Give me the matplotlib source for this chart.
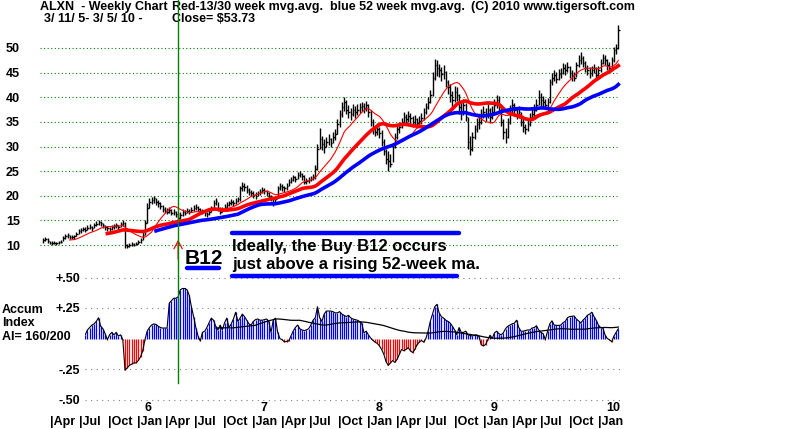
import numpy as np
import pandas as pd
import matplotlib
matplotlib.use("Agg")
import matplotlib.pyplot as plt
from matplotlib.transforms import blended_transform_factory, ScaledTranslation
from matplotlib.lines import Line2D

plt.rcParams['font.family'] = ['Liberation Sans', 'DejaVu Sans']

# ---------------- data ----------------
start_date = "2005-03-11"

close = [11.0, 11.3, 10.8, 10.5, 10.4, 10.5, 10.4, 10.6, 10.7,
         11.5, 11.8, 12.0, 11.7, 11.6, 11.8,
         12.3, 12.8, 13.0, 13.3, 13.1, 13.5,
         13.7, 13.4, 14.0, 14.3, 14.6, 14.5,
         14.0, 13.6, 13.4, 13.2, 13.6,
         13.8, 14.0, 13.6, 14.2, 14.5,
         10.0,
         9.8, 10.0, 10.2, 10.1, 10.3, 10.6,
         11.0, 12.0, 14.5,
         17.5,
         18.8, 19.2, 19.5, 18.8,
         18.5, 18.0, 17.3, 17.0,
         16.8, 17.2, 16.5, 16.8, 16.2,
         15.5, 16.0, 16.8,
         16.5, 17.0, 16.8, 17.2, 17.5, 17.8, 17.4, 17.0,
         16.9, 16.5, 16.2, 16.8, 17.5,
         18.5, 19.0,
         17.5, 16.8, 17.2,
         17.8, 18.2, 18.5, 18.8, 18.6, 19.0, 19.3,
         21.5, 22.0,
         21.8, 21.2, 20.8, 20.5, 20.2, 20.0,
         20.5, 20.8, 21.2, 21.0, 20.6, 20.0, 19.5,
         18.5, 19.3,
         21.5, 22.0, 21.8, 21.5,
         22.0, 22.8, 23.2, 23.8,
         23.5, 24.2, 24.5,
         24.0, 22.8, 23.0,
         23.2, 23.5, 23.8,
         25.5, 29.5,
         31.5, 30.5, 30.0,
         31.0, 31.5, 30.8, 32.0, 32.5,
         34.5, 36.5, 38.0,
         39.0, 37.5,
         37.0, 36.5, 37.5, 37.0,
         37.5, 38.0, 38.3, 37.8, 38.5,
         37.0, 35.0, 33.5,
         33.0, 33.5, 32.8, 31.0,
         29.0, 27.5, 27.0, 26.5,
         30.0, 32.0, 33.5, 34.0,
         35.0, 36.0, 35.5, 36.2, 35.8,
         35.0, 35.5, 34.8, 35.2, 35.8,
         37.0, 38.0, 39.0, 40.5,
         44.0, 46.5, 46.0,
         45.5, 44.8, 45.2,
         43.0, 42.0, 40.5, 39.5,
         41.0, 40.5, 38.0, 37.0,
         38.5, 36.0,
         31.0, 29.5,
         32.0, 33.5, 34.5,
         35.0, 36.5, 37.0, 36.5,
         37.5, 36.0, 37.0, 38.5,
         39.5, 38.5,
         35.0, 33.0, 32.0,
         35.0, 37.5, 38.5, 37.5,
         36.5, 37.0,
         35.0, 34.0, 33.5, 34.5,
         36.0, 36.5, 37.5,
         38.5, 40.0, 39.5, 39.0,
         38.5, 39.0,
         43.0, 44.0,
         44.5, 43.8, 44.8, 45.0,
         46.0, 45.5, 46.2, 45.0,
         44.5, 44.0,
         46.5, 47.5, 48.0,
         47.0, 46.0, 45.5, 45.0,
         45.5, 46.0, 44.5, 45.5,
         47.0, 48.0, 47.5,
         46.5, 46.0, 47.5,
         49.5, 50.0, 53.73]

high = [11.4, 11.6, 11.4, 10.9, 10.8, 10.8, 10.7, 10.9, 11.0,
        11.9, 12.3, 12.4, 12.1, 12.0, 12.1,
        12.7, 13.3, 13.5, 13.7, 13.6, 14.0,
        14.2, 13.9, 14.4, 14.8, 15.1, 14.9,
        14.5, 14.1, 13.9, 13.7, 14.0,
        14.2, 14.4, 14.1, 14.6, 15.0,
        14.6,
        10.3, 10.4, 10.6, 10.5, 10.7, 11.0,
        11.5, 12.6, 15.0,
        18.5,
        19.5, 19.8, 20.0, 19.6,
        19.2, 18.8, 18.2, 17.8,
        17.5, 17.8, 17.4, 17.3, 17.0,
        16.4, 16.6, 17.3,
        17.2, 17.5, 17.4, 17.7, 18.1, 18.3, 18.0, 17.6,
        17.4, 17.1, 16.8, 17.3, 18.0,
        19.1, 19.6,
        18.8, 17.8, 17.7,
        18.3, 18.7, 19.0, 19.3, 19.2, 19.5, 19.8,
        22.0, 22.7,
        22.6, 22.2, 21.6, 21.2, 20.9, 20.7,
        21.0, 21.3, 21.7, 21.6, 21.2, 20.7, 20.1,
        19.6, 19.8,
        22.0, 22.5, 22.3, 22.0,
        22.6, 23.3, 23.8, 24.3,
        24.1, 24.8, 25.0,
        24.7, 24.2, 23.6,
        23.8, 24.1, 24.4,
        26.2, 30.5,
        33.8, 32.2, 31.5,
        32.0, 32.5, 31.8, 33.0, 33.5,
        35.5, 37.5, 39.0,
        40.0, 39.5,
        38.4, 37.8, 38.6, 38.2,
        38.6, 38.9, 39.0, 38.8, 39.2,
        38.6, 37.4, 35.6,
        34.2, 34.8, 34.0, 33.4,
        31.5, 29.5, 29.0, 28.4,
        30.8, 32.8, 34.4, 35.0,
        35.8, 37.0, 36.6, 37.2, 36.9,
        36.2, 36.4, 35.8, 36.2, 36.8,
        37.8, 38.9, 40.0, 41.5,
        45.2, 47.8, 47.6,
        46.8, 46.2, 46.6,
        45.4, 43.6, 42.6, 41.2,
        42.2, 42.0, 40.6, 38.8,
        39.6, 38.8,
        36.0, 32.2,
        33.0, 34.4, 35.8,
        36.4, 37.6, 38.2, 37.8,
        38.6, 37.8, 38.2, 39.6,
        40.4, 40.2,
        38.6, 35.5, 33.8,
        35.8, 38.4, 39.6, 38.8,
        37.8, 38.2,
        37.0, 35.6, 34.6, 35.4,
        36.8, 37.8, 38.6,
        39.6, 41.5, 40.8, 40.2,
        39.6, 39.8,
        43.8, 45.0,
        45.6, 45.2, 45.8, 46.0,
        47.0, 46.8, 47.2, 46.4,
        45.6, 45.2,
        47.2, 48.6, 49.2,
        48.4, 47.4, 46.6, 46.2,
        46.4, 46.8, 46.2, 46.4,
        47.8, 48.8, 48.6,
        47.8, 47.2, 48.2,
        50.2, 50.8, 54.6]

low = [10.5, 10.8, 10.5, 10.2, 10.1, 10.2, 10.1, 10.2, 10.4,
       10.9, 11.3, 11.5, 11.2, 11.2, 11.3,
       11.8, 12.2, 12.5, 12.8, 12.6, 13.0,
       13.2, 12.9, 13.4, 13.8, 14.0, 13.9,
       13.5, 13.0, 12.8, 12.7, 13.1,
       13.3, 13.5, 13.1, 13.6, 13.9,
       9.3,
       9.4, 9.6, 9.8, 9.7, 9.9, 10.2,
       10.5, 11.0, 12.0,
       14.5,
       17.6, 18.3, 18.6, 18.2,
       17.8, 17.3, 16.8, 16.4,
       16.2, 16.5, 16.0, 16.1, 15.6,
       15.0, 15.3, 15.8,
       16.0, 16.4, 16.2, 16.6, 16.9, 17.2, 16.9, 16.5,
       16.3, 15.9, 15.7, 16.1, 16.8,
       17.3, 18.2,
       17.0, 16.3, 16.6,
       17.1, 17.6, 17.9, 18.2, 18.0, 18.4, 18.7,
       19.0, 21.0,
       21.0, 20.6, 20.2, 19.9, 19.6, 19.4,
       19.9, 20.2, 20.6, 20.4, 20.0, 19.4, 18.9,
       17.9, 18.4,
       19.5, 21.2, 21.0, 20.8,
       21.2, 22.0, 22.5, 23.0,
       22.8, 23.4, 23.8,
       23.2, 22.3, 22.4,
       22.6, 22.9, 23.2,
       23.5, 25.2,
       29.5, 29.2, 28.6,
       29.8, 30.4, 29.8, 30.8, 31.4,
       32.5, 34.0, 36.0,
       37.2, 36.5,
       35.8, 35.4, 36.2, 35.8,
       36.4, 36.9, 37.2, 36.8, 37.3,
       36.0, 34.2, 32.6,
       32.2, 32.4, 31.8, 30.2,
       28.2, 26.5, 25.0, 25.8,
       26.8, 29.6, 31.5, 32.8,
       33.8, 34.8, 34.4, 35.0, 34.6,
       34.0, 34.4, 33.8, 34.0, 34.6,
       35.4, 36.6, 37.6, 38.8,
       40.2, 43.5, 44.4,
       44.2, 43.4, 43.8,
       42.0, 40.6, 39.0, 38.0,
       39.0, 39.2, 36.5, 35.4,
       36.4, 35.2,
       29.4, 28.2,
       29.0, 31.6, 33.0,
       33.6, 34.6, 35.8, 35.2,
       35.8, 34.8, 35.6, 36.8,
       37.8, 37.0,
       34.2, 31.5, 30.8,
       31.8, 34.6, 36.8, 36.2,
       35.6, 35.8,
       34.2, 33.0, 32.6, 33.2,
       34.2, 35.4, 36.2,
       37.2, 38.4, 38.2, 37.8,
       37.6, 37.9,
       38.8, 42.4,
       43.2, 42.8, 43.6, 44.0,
       44.8, 44.6, 45.2, 44.0,
       43.4, 43.2,
       44.2, 46.2, 46.8,
       46.2, 45.2, 44.6, 44.0,
       44.4, 44.9, 43.6, 44.2,
       45.2, 46.8, 46.6,
       45.6, 45.2, 46.0,
       47.2, 48.8, 49.8]

accum_start_week = 19
accum = [0.03, 0.07, 0.09, 0.11, 0.12, 0.14, 0.17, 0.10, 0.08, 0.04,
         -0.01, 0.03, 0.05, 0.03, 0.05, 0.02, 0.03, -0.01, -0.26, -0.24,
         -0.22, -0.21, -0.20, -0.20, -0.18, -0.15, -0.10, -0.01, 0.06, 0.09,
         0.11, 0.12, 0.115, 0.10, 0.09, 0.085, 0.086, 0.085, 0.29, 0.31,
         0.33, 0.33, 0.34, 0.40, 0.41, 0.41, 0.40, 0.355, 0.26, 0.18,
         0.09, 0.02, -0.02, 0.05, 0.06, 0.09, 0.13, 0.167, 0.15, 0.10,
         0.07, 0.11, 0.07, 0.13, 0.167, 0.09, 0.12, 0.16, 0.215, 0.14,
         0.167, 0.20, 0.18, 0.15, 0.12, 0.11, 0.14, 0.155, 0.16, 0.15,
         0.15, 0.155, 0.16, 0.14, 0.05, 0.15, 0.167, 0.05, 0.00, -0.01,
         -0.027, -0.025, -0.02, 0.02, 0.06, 0.09, 0.11, 0.08, 0.07, 0.065,
         0.07, 0.08, 0.11, 0.15, 0.17, 0.26, 0.17, 0.14, 0.20, 0.225,
         0.225, 0.225, 0.22, 0.21, 0.21, 0.22, 0.20, 0.19, 0.18, 0.19,
         0.17, 0.16, 0.155, 0.15, 0.14, 0.126, 0.046, 0.06, 0.03, 0.005,
         -0.015, -0.03, -0.04, -0.06, -0.09, -0.13, -0.19, -0.22, -0.20, -0.18,
         -0.196, -0.17, -0.13, -0.09, -0.10, -0.09, -0.075, -0.10, -0.115, -0.09,
         -0.05, -0.03, -0.016, -0.03, 0.00, 0.06, 0.14, 0.20, 0.26, 0.28,
         0.21, 0.18, 0.167, 0.15, 0.14, 0.126, 0.10, 0.07, 0.03, 0.09,
         0.05, 0.05, 0.06, 0.03, 0.025, 0.02, 0.027, 0.03, 0.02, -0.05,
         -0.06, -0.05, -0.01, 0.027, 0.00, 0.046, 0.06, 0.04, 0.03, 0.046,
         0.08, 0.10, 0.11, 0.12, 0.126, 0.15, 0.09, 0.06, 0.06, 0.065,
         0.07, 0.07, 0.086, 0.09, 0.105, 0.07, 0.05, 0.04, -0.01, 0.06,
         0.12, 0.145, 0.11, 0.108, 0.107, 0.11, 0.13, 0.14, 0.17, 0.18,
         0.182, 0.185, 0.16, 0.145, 0.126, 0.15, 0.167, 0.19, 0.20, 0.215,
         0.18, 0.15, 0.11, 0.09, 0.086, 0.03, 0.00, -0.01, -0.027, 0.02,
         0.05, 0.08]

ma_fast, ma_mid, ma_slow = 13, 30, 52
accum_ma_window = 60
signal_week = 61

price_ticks = [10, 15, 20, 25, 30, 35, 40, 45, 50]
accum_ticks = [0.50, 0.25, -0.25, -0.50]
accum_tick_labels = ["+.50", "+.25", "-.25", "-.50"]
month_names = {1: "Jan", 4: "Apr", 7: "Jul", 10: "Oct"}
year_labels = {2006: "6", 2007: "7", 2008: "8", 2009: "9", 2010: "10"}

# ---------------- layout helpers ----------------
W, H = 800, 429
fig = plt.figure(figsize=(W / 100, H / 100), dpi=100)
fig.patch.set_facecolor("white")

def fy(py):
    return 1 - py / H

X0, XS = 43.2, 2.212          # pixel of week 0, pixels per week
P_Y10, P_SCALE = 245.0, 4.925  # price axis layout
A_Y0, A_SCALE = 338.5, 122.0   # accum axis layout

# price axes
pl, pr, pt, pb = 40, 622, 20, 258
ax = fig.add_axes([pl / W, fy(pb), (pr - pl) / W, (pb - pt) / H])
ax.set_xlim((pl - X0) / XS, (pr - X0) / XS)
ax.set_ylim(10 + (P_Y10 - pb) / P_SCALE, 10 + (P_Y10 - pt) / P_SCALE)

# accum axes
al, ar, at, ab = 85, 622, 270, 405
ax2 = fig.add_axes([al / W, fy(ab), (ar - al) / W, (ab - at) / H])
ax2.set_xlim((al - X0) / XS, (ar - X0) / XS)
ax2.set_ylim((A_Y0 - ab) / A_SCALE, (A_Y0 - at) / A_SCALE)

for a in (ax, ax2):
    for s in a.spines.values():
        s.set_visible(False)
    a.set_xticks([])
    a.patch.set_alpha(0)

bold = dict(fontweight="bold", color="black")

# ---------------- price panel ----------------
close_a = np.array(close)
weeks = np.arange(len(close_a))
for p in price_ticks:
    ax.axhline(p, xmin=0, xmax=(617 - pl) / (pr - pl), color="#008000",
               lw=0.8, ls=(0, (1, 2.2)), zorder=1)

ax.vlines(weeks, low, high, color="black", lw=1.0, zorder=3)
ax.hlines(close_a, weeks, weeks + 0.7, color="black", lw=1.0, zorder=3)

s = pd.Series(close_a)
ax.plot(weeks, s.rolling(ma_fast).mean(), color="#ff0000", lw=0.8, zorder=4)
ax.plot(weeks, s.rolling(ma_mid).mean(), color="#ff0000", lw=2.6, zorder=4)
ax.plot(weeks, s.rolling(ma_slow).mean(), color="#0000ff", lw=2.6, zorder=4)

ax.set_yticks(price_ticks)
ax.set_yticklabels([str(p) for p in price_ticks], fontsize=9, fontweight="bold")
ax.tick_params(axis="y", length=0, pad=14.5)

# ---------------- accum panel ----------------
acc = np.array(accum)
acc_weeks = np.arange(len(acc)) + accum_start_week
for v in accum_ticks:
    ax2.axhline(v, color="#808080", lw=0.8, ls=(0, (1, 4)), zorder=1)
colors = np.where(acc >= 0, "#0000ff", "#ff0000")
ax2.vlines(acc_weeks, 0, acc, colors=colors, lw=0.9, zorder=2)
ax2.plot(acc_weeks, acc, color="black", lw=0.8, zorder=3)
ax2.plot(acc_weeks, pd.Series(acc).rolling(accum_ma_window).mean(),
         color="black", lw=0.9, zorder=3)

ax2.set_yticks(accum_ticks)
ax2.set_yticklabels(accum_tick_labels, fontsize=9, fontweight="bold")
ax2.tick_params(axis="y", length=0, pad=3.5)

fig.text(2 / W, fy(310), "Accum", fontsize=9, va="center", ha="left", **bold)
fig.text(2 / W, fy(323), "Index", fontsize=9, va="center", ha="left", **bold)
fig.text(2 / W, fy(337), "AI= 160/200", fontsize=9, va="center", ha="left", **bold)

# ---------------- date labels ----------------
start = pd.Timestamp(start_date)
end = start + pd.Timedelta(weeks=len(close_a) - 1)
quarters = pd.date_range("2005-04-01", end, freq="QS-JAN")
trans = blended_transform_factory(ax2.transData, fig.transFigure)
for d in quarters:
    w = (d - start).days / 7.0
    ax2.text(w, fy(422), "|" + month_names[d.month], transform=trans,
             ha="left", va="center", fontsize=9, clip_on=False, **bold)
    if d.month == 1 and d.year in year_labels:
        t2 = trans + ScaledTranslation(8 / 100, 0, fig.dpi_scale_trans)
        ax2.text(w, fy(408), year_labels[d.year], transform=t2,
                 ha="left", va="center", fontsize=9, clip_on=False, **bold)

# ---------------- title ----------------
fig.text(40 / W, fy(7), "ALXN  - Weekly Chart", fontsize=9, va="center", **bold)
fig.text(172 / W, fy(7), "Red-13/30 week mvg.avg.", fontsize=9, va="center", **bold)
fig.text(330 / W, fy(7), "blue 52 week mvg.avg.", fontsize=9, va="center", **bold)
fig.text(471 / W, fy(7), "(C) 2010 www.tigersoft.com", fontsize=9, va="center", **bold)
fig.text(44 / W, fy(19.5), "3/ 11/ 5- 3/ 5/ 10 -", fontsize=9, va="center", **bold)
fig.text(172 / W, fy(19.5), r"Close= \$%.2f" % close[-1], fontsize=9, va="center", **bold)

# ---------------- signal marker ----------------
tv = blended_transform_factory(ax.transData, fig.transFigure)
fig.add_artist(Line2D([signal_week, signal_week], [fy(0), fy(383)], transform=tv,
                      color="#008000", lw=1.0, zorder=6))
ax.annotate("", xy=(signal_week, H - 237), xycoords=("data", "figure pixels"),
            xytext=(signal_week, H - 262), textcoords=("data", "figure pixels"),
            arrowprops=dict(arrowstyle="->,head_length=0.55,head_width=0.3",
                            color="#ff0000", lw=0.9),
            annotation_clip=False)

# B12 annotation
fig.text(185 / W, fy(258), "B12", fontsize=15, va="center", ha="left", **bold)
fig.add_artist(Line2D([187 / W, 219 / W], [fy(268), fy(268)], color="#0000ff",
                      lw=3.2, solid_capstyle="round"))
fig.add_artist(Line2D([232 / W, 459 / W], [fy(233), fy(233)], color="#0000ff",
                      lw=3.2, solid_capstyle="round"))
fig.add_artist(Line2D([232 / W, 457 / W], [fy(276), fy(276)], color="#0000ff",
                      lw=3.2, solid_capstyle="round"))
fig.text(232 / W, fy(246), "Ideally, the Buy B12 occurs", fontsize=12,
         va="center", ha="left", **bold)
fig.text(232 / W, fy(264), "just above a rising 52-week ma.", fontsize=12,
         va="center", ha="left", **bold)

fig.savefig("out.png", dpi=100, facecolor="white")
